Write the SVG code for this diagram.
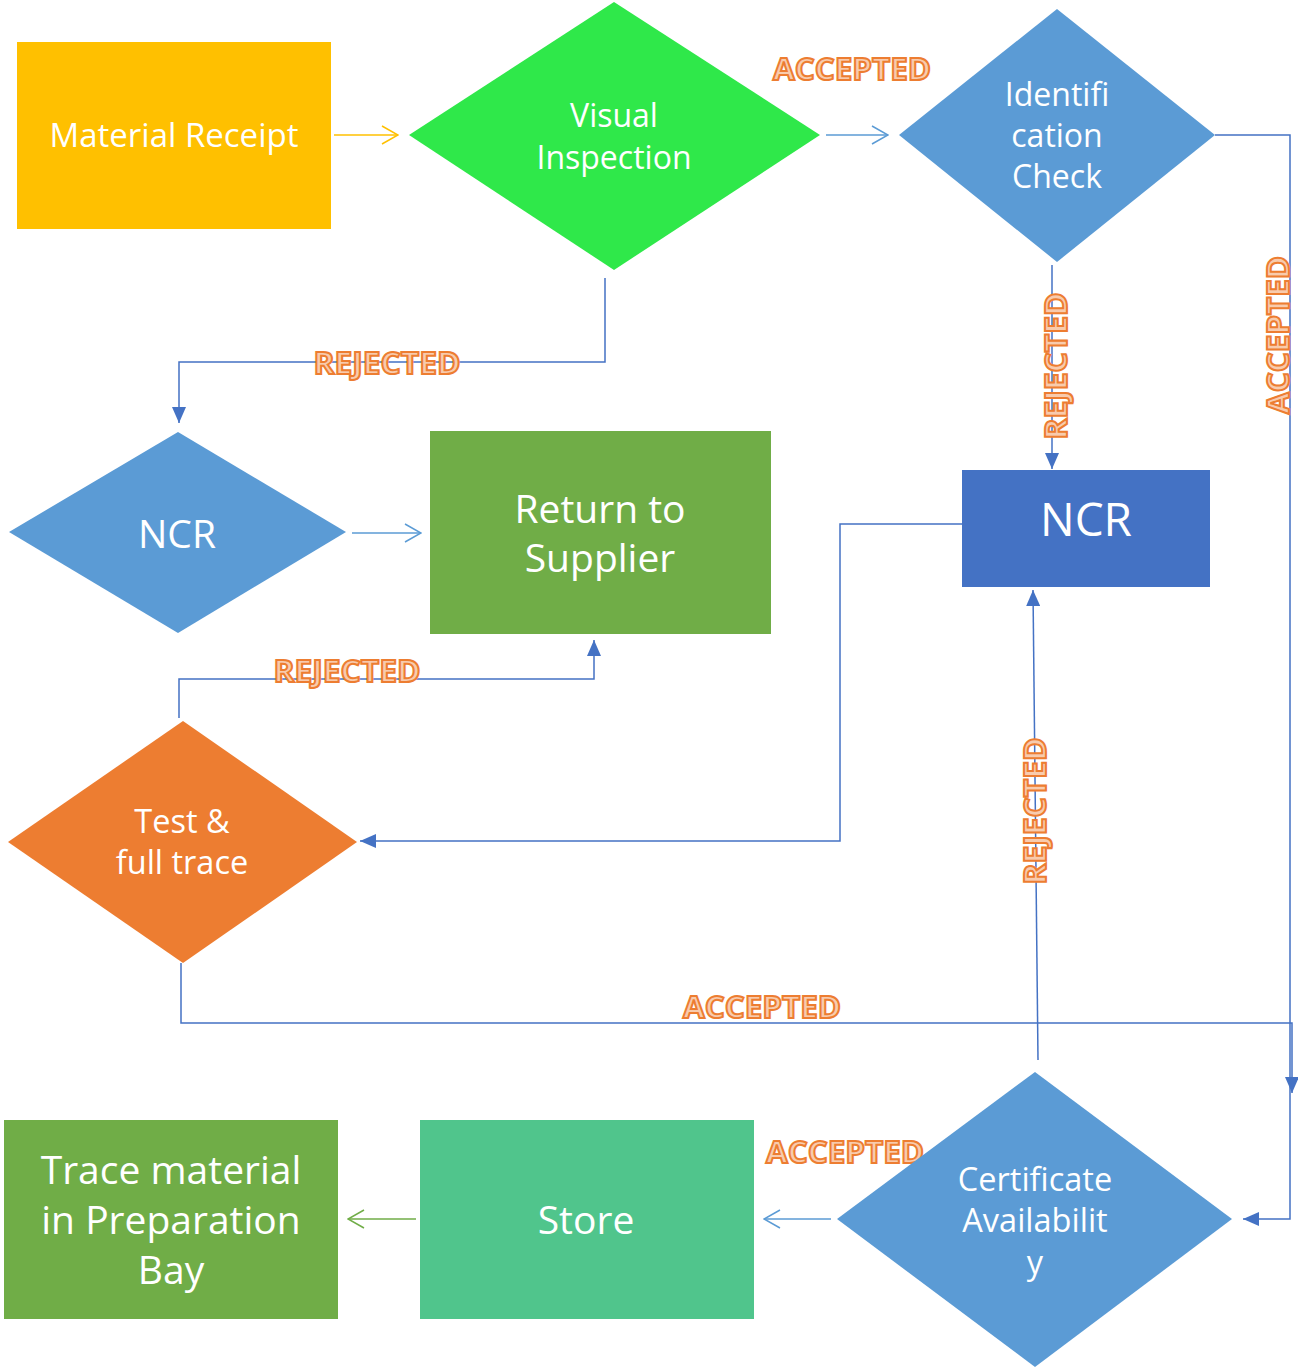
<svg xmlns="http://www.w3.org/2000/svg" width="1298" height="1368" viewBox="0 0 1298 1368">
<style>
.t{font-family:"Open Sans","Liberation Sans",sans-serif;fill:#fff;text-anchor:middle;dominant-baseline:central}
.lbl{font-family:"Open Sans","Liberation Sans",sans-serif;font-weight:bold;font-size:31px;fill:#F8CBAD;stroke:#ED7D31;stroke-width:2;text-anchor:middle;dominant-baseline:central}
.c{fill:none;stroke:#4472C4;stroke-width:1.5}
.o{fill:none;stroke:#5B9BD5;stroke-width:1.5}
</style>
<defs>
<marker id="fab" viewBox="0 0 16 14" refX="16" refY="7" markerWidth="16" markerHeight="14" markerUnits="userSpaceOnUse" orient="auto"><path d="M0,0 L16,7 L0,14 Z" fill="#4472C4"/></marker>
<marker id="ob" viewBox="0 0 18 20" refX="17" refY="10" markerWidth="18" markerHeight="20" markerUnits="userSpaceOnUse" orient="auto"><path d="M1,1 L17,10 L1,19" fill="none" stroke="#5B9BD5" stroke-width="1.5"/></marker>
<marker id="oy" viewBox="0 0 18 20" refX="17" refY="10" markerWidth="18" markerHeight="20" markerUnits="userSpaceOnUse" orient="auto"><path d="M1,1 L17,10 L1,19" fill="none" stroke="#FFC000" stroke-width="1.5"/></marker>
<marker id="og" viewBox="0 0 18 20" refX="17" refY="10" markerWidth="18" markerHeight="20" markerUnits="userSpaceOnUse" orient="auto"><path d="M1,1 L17,10 L1,19" fill="none" stroke="#70AD47" stroke-width="1.5"/></marker>
</defs>

<g id="connectors">
<path d="M334,135 H398" fill="none" stroke="#FFC000" stroke-width="1.5" marker-end="url(#oy)"/>
<path class="o" d="M826,135 H888" marker-end="url(#ob)"/>
<path class="o" d="M352,533 H421" marker-end="url(#ob)"/>
<path class="o" d="M831,1219 H764" marker-end="url(#ob)"/>
<path d="M416,1219 H348" fill="none" stroke="#70AD47" stroke-width="1.5" marker-end="url(#og)"/>
<path class="c" d="M1215,135 H1290 V1219 H1243" marker-end="url(#fab)"/>
<path class="c" d="M1052,265 V469" marker-end="url(#fab)"/>
<path class="c" d="M605,278 V362 H179 V423" marker-end="url(#fab)"/>
<path class="c" d="M179,718 V679 H594 V640" marker-end="url(#fab)"/>
<path class="c" d="M962,524 H840 V841 H360" marker-end="url(#fab)"/>
<path class="c" d="M1038,1060 L1033,590" marker-end="url(#fab)"/>
<path class="c" d="M181,963 V1023 H1292 V1093" marker-end="url(#fab)"/>
<text class="lbl" x="852" y="68" textLength="158" lengthAdjust="spacingAndGlyphs">ACCEPTED</text>
<text class="lbl" x="387" y="362" textLength="147" lengthAdjust="spacingAndGlyphs">REJECTED</text>
<text class="lbl" x="347" y="670" textLength="147" lengthAdjust="spacingAndGlyphs">REJECTED</text>
<text class="lbl" x="762" y="1006" textLength="158" lengthAdjust="spacingAndGlyphs">ACCEPTED</text>
<text class="lbl" x="845" y="1151" textLength="158" lengthAdjust="spacingAndGlyphs">ACCEPTED</text>
<text class="lbl" transform="translate(1055,366) rotate(-90)" textLength="147" lengthAdjust="spacingAndGlyphs">REJECTED</text>
<text class="lbl" transform="translate(1277,335) rotate(-90)" font-size="30" textLength="158" lengthAdjust="spacingAndGlyphs">ACCEPTED</text>
<text class="lbl" transform="translate(1034,811) rotate(-90)" textLength="147" lengthAdjust="spacingAndGlyphs">REJECTED</text>
</g>

<g id="material-receipt">
<rect x="17" y="42" width="314" height="187" fill="#FFC000"/>
<text class="t" x="174" y="134" font-size="33">Material Receipt</text>
</g>
<g id="visual-inspection">
<polygon points="409,135 614,2 820,135 614,270" fill="#2FE84A"/>
<text class="t" x="614" y="114" font-size="32">Visual</text>
<text class="t" x="614" y="156" font-size="32">Inspection</text>
</g>
<g id="identification-check">
<polygon points="899,135 1057,9 1215,135 1057,262" fill="#5B9BD5"/>
<text class="t" x="1057" y="93" font-size="32">Identifi</text>
<text class="t" x="1057" y="134" font-size="32">cation</text>
<text class="t" x="1057" y="175" font-size="32">Check</text>
</g>
<g id="ncr-left">
<polygon points="9,532 178,432 346,532 178,633" fill="#5B9BD5"/>
<text class="t" x="177" y="532" font-size="39">NCR</text>
</g>
<g id="return-to-supplier">
<rect x="430" y="431" width="341" height="203" fill="#70AD47"/>
<text class="t" x="600" y="507" font-size="39">Return to</text>
<text class="t" x="600" y="556" font-size="39">Supplier</text>
</g>
<g id="ncr-right">
<rect x="962" y="470" width="248" height="117" fill="#4472C4"/>
<text class="t" x="1086" y="518" font-size="46">NCR</text>
</g>
<g id="test-full-trace">
<polygon points="8,842 183,721 357,842 183,963" fill="#ED7D31"/>
<text class="t" x="182" y="820" font-size="32.5">Test &amp;</text>
<text class="t" x="182" y="861" font-size="32.5">full trace</text>
</g>
<g id="certificate-availability">
<polygon points="837,1219 1035,1072 1232,1219 1035,1367" fill="#5B9BD5"/>
<text class="t" x="1035" y="1178" font-size="32.5">Certificate</text>
<text class="t" x="1035" y="1219" font-size="32.5">Availabilit</text>
<text class="t" x="1035" y="1261" font-size="32.5">y</text>
</g>
<g id="store">
<rect x="420" y="1120" width="334" height="199" fill="#50C58C"/>
<text class="t" x="586" y="1218" font-size="39">Store</text>
</g>
<g id="trace-material">
<rect x="4" y="1120" width="334" height="199" fill="#70AD47"/>
<text class="t" x="171" y="1168" font-size="39">Trace material</text>
<text class="t" x="171" y="1218" font-size="39">in Preparation</text>
<text class="t" x="171" y="1268" font-size="39">Bay</text>
</g>
</svg>
